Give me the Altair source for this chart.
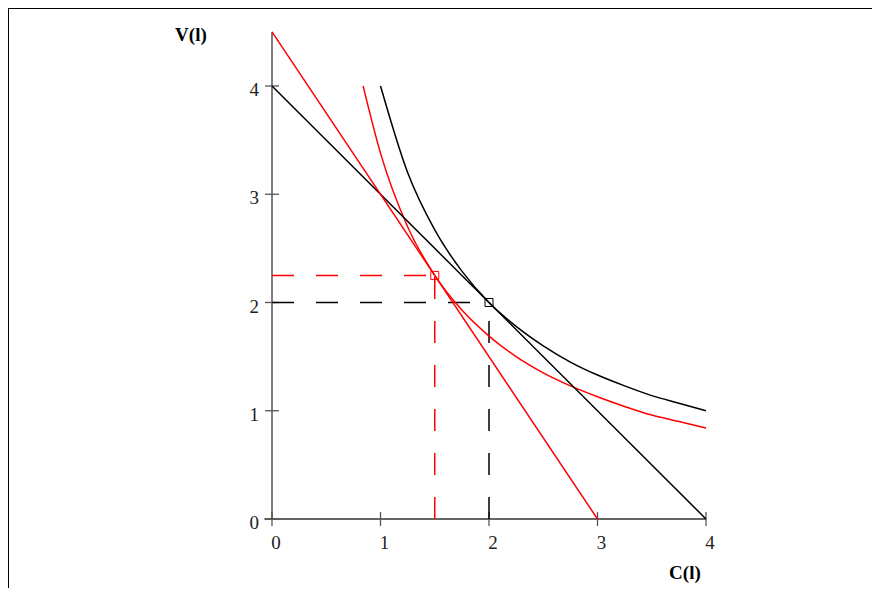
import altair as alt
import pandas as pd

# ---- data ----
black_line_C = [0, 4]
black_line_V = [4, 0]
red_line_C = [0, 3]
red_line_V = [4.5, 0]

black_curve_C = [1.0, 1.25, 1.5, 1.75, 2.0, 2.25, 2.5, 2.75, 3.0, 3.25, 3.5, 3.75, 4.0]
black_curve_V = [4.0, 3.2, 2.67, 2.29, 2.0, 1.78, 1.6, 1.45, 1.33, 1.23, 1.14, 1.07, 1.0]
red_curve_C = [0.84, 1.0, 1.25, 1.5, 1.75, 2.0, 2.25, 2.5, 2.75, 3.0, 3.25, 3.5, 3.75, 4.0]
red_curve_V = [4.0, 3.38, 2.7, 2.25, 1.93, 1.69, 1.5, 1.35, 1.23, 1.13, 1.04, 0.96, 0.9, 0.84]

opt_C = [1.5, 2.0]
opt_V = [2.25, 2.0]
opt_color = ["#ff0000", "#000000"]

x_ticks = [0, 1, 2, 3, 4]
y_ticks = [0, 1, 2, 3, 4]
x_title = "C(l)"
y_title = "V(l)"

# ---- layout ----
W, H = 864, 580
PX_PER_C = 108.5
PX_PER_V = 108.25
C0_PX = 264      # C = 0 inside view
V0_PX = 511      # V = 0 inside view
x_dom = [-C0_PX / PX_PER_C, (W - C0_PX) / PX_PER_C]
y_dom = [(V0_PX - H) / PX_PER_V, V0_PX / PX_PER_V]

X = lambda f="C": alt.X(f"{f}:Q", scale=alt.Scale(domain=x_dom, nice=False, zero=False), axis=None)
Y = lambda f="V": alt.Y(f"{f}:Q", scale=alt.Scale(domain=y_dom, nice=False, zero=False), axis=None)
FONT = "Liberation Serif"


def series(cs, vs, sid, color):
    return pd.DataFrame({"C": cs, "V": vs, "sid": sid, "color": color, "o": range(len(cs))})


solid = pd.concat([
    series(black_line_C, black_line_V, "bl", "#000000"),
    series(red_line_C, red_line_V, "rl", "#ff0000"),
])
curves = pd.concat([
    series(black_curve_C, black_curve_V, "bc", "#000000"),
    series(red_curve_C, red_curve_V, "rc", "#ff0000"),
])

dash_parts = []
for i, (c, v, col) in enumerate(zip(opt_C, opt_V, opt_color)):
    dash_parts.append(series([0, c], [v, v], f"h{i}", col))
    dash_parts.append(series([c, c], [0, v], f"v{i}", col))
dashes = pd.concat(dash_parts)

opts = pd.DataFrame({"C": opt_C, "V": opt_V, "color": opt_color})

lines_layer = alt.Chart(solid).mark_line(strokeWidth=1.5).encode(
    x=X(), y=Y(), detail="sid:N", order="o:Q", color=alt.Color("color:N", scale=None)
)
curves_layer = alt.Chart(curves).mark_line(strokeWidth=1.5, interpolate="monotone").encode(
    x=X(), y=Y(), detail="sid:N", order="o:Q", color=alt.Color("color:N", scale=None)
)
dash_layer = alt.Chart(dashes).mark_line(strokeWidth=1.5, strokeDash=[22, 22]).encode(
    x=X(), y=Y(), detail="sid:N", order="o:Q", color=alt.Color("color:N", scale=None)
)
opt_layer = alt.Chart(opts).mark_point(shape="square", size=64, filled=False, strokeWidth=1, opacity=1).encode(
    x=X(), y=Y(), stroke=alt.Stroke("color:N", scale=None)
)

# axes drawn as marks
y_axis = alt.Chart(pd.DataFrame({"C": [0], "V": [0], "V2": [4.5]})).mark_rule(color="#000000", strokeWidth=1).encode(
    x=X(), y=Y(), y2="V2:Q"
)
x_axis = alt.Chart(pd.DataFrame({"C": [-0.07], "C2": [4], "V": [0]})).mark_rule(color="#666666", strokeWidth=2).encode(
    x=X(), x2="C2:Q", y=Y()
)
x_tick_marks = alt.Chart(pd.DataFrame({"C": x_ticks, "V": [0] * len(x_ticks)})).mark_tick(
    orient="vertical", size=14, thickness=1.3, color="#555555", opacity=1
).encode(x=X(), y=Y())
y_tick_marks = alt.Chart(pd.DataFrame({"C": [0] * len(y_ticks), "V": y_ticks})).mark_tick(
    orient="horizontal", size=14, thickness=1.3, color="#555555", opacity=1
).encode(x=X(), y=Y())

x_labels = alt.Chart(pd.DataFrame({"C": x_ticks, "V": [0] * len(x_ticks), "t": [str(v) for v in x_ticks]})).mark_text(
    font=FONT, fontSize=19, align="center", baseline="middle", dx=4, dy=24, color="#222222"
).encode(x=X(), y=Y(), text="t:N")
y_labels = alt.Chart(pd.DataFrame({"C": [0] * len(y_ticks), "V": y_ticks, "t": [str(v) for v in y_ticks]})).mark_text(
    font=FONT, fontSize=19, align="right", baseline="middle", dx=-13, dy=4, color="#222222"
).encode(x=X(), y=Y(), text="t:N")

titles = alt.Chart(pd.DataFrame({"C": [-0.747, 3.806], "V": [4.471, -0.5], "t": [y_title, x_title]})).mark_text(
    font=FONT, fontSize=19, fontWeight="bold", align="center", baseline="middle", color="#000000"
).encode(x=X(), y=Y(), text="t:N")

# frame (top and left edges visible in the reference)
frame_top = alt.Chart(pd.DataFrame({"a": [0]})).mark_rule(color="#000000", strokeWidth=2).encode(
    x=alt.value(0), x2=alt.value(W), y=alt.value(0)
)
frame_left = alt.Chart(pd.DataFrame({"a": [0]})).mark_rule(color="#000000", strokeWidth=2).encode(
    x=alt.value(0), y=alt.value(0), y2=alt.value(H)
)

chart = alt.layer(
    frame_top, frame_left,
    x_axis, y_axis, x_tick_marks, y_tick_marks,
    dash_layer, curves_layer, lines_layer, opt_layer,
    x_labels, y_labels, titles,
).properties(
    width=W, height=H, padding=0, autosize=alt.AutoSizeParams(type="none"), background="white"
).configure_view(strokeWidth=0)

chart.save("out.html", embed_options={"renderer": "svg", "actions": False})
